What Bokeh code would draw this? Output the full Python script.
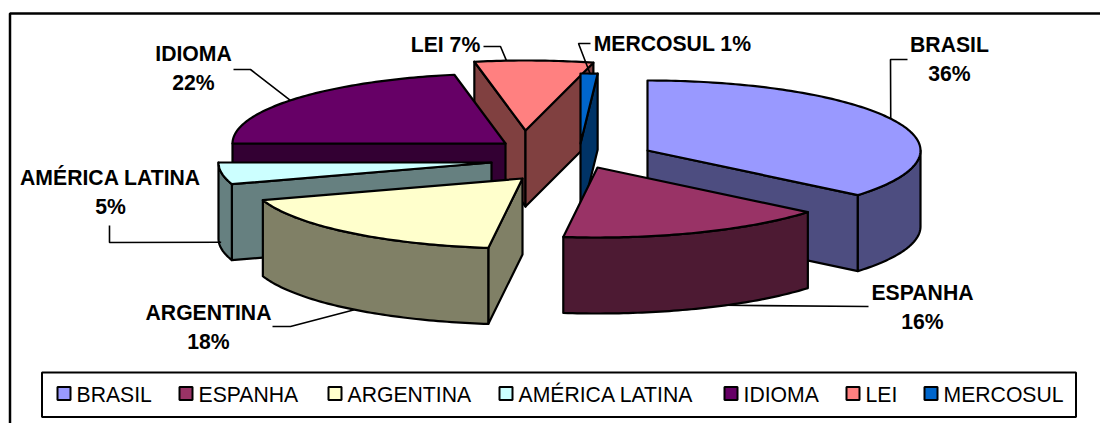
import math

from bokeh.core.properties import value
from bokeh.embed import file_html
from bokeh.plotting import figure
from bokeh.resources import INLINE

# Chart data
categories = ["BRASIL", "ESPANHA", "ARGENTINA", "AMÉRICA LATINA", "IDIOMA", "LEI", "MERCOSUL"]
percentages = [36, 16, 18, 5, 22, 7, 1]
top_colors = ["#9999FF", "#993366", "#FFFFCC", "#CCFFFF", "#660066", "#FF8080", "#0066CC"]
side_colors = ["#4D4D80", "#4D1A33", "#808066", "#668080", "#330033", "#804040", "#003366"]

# Projection of the tilted pie and where each exploded slice has its tip
RADIUS_X, RADIUS_Y, DEPTH = 273, 70, 76
tip_x = [647, 597, 522, 491, 505, 525, 580]
tip_y = [150, 167, 178, 162, 143, 130, 143]
draw_order = [5, 6, 4, 3, 0, 1, 2]


def rim(i, angle):
    """Screen position of a slice's rim at a clockwise angle from 12 o'clock."""
    t = math.radians(angle)
    return tip_x[i] + RADIUS_X * math.sin(t), tip_y[i] - RADIUS_Y * math.cos(t)


# A percentage is that share of the circle. The labels add up to 105, so the
# running angle goes back to the top once it has passed a full turn.
spans = []
running = 0.0
for pct in percentages:
    if running >= 360:
        running = 0.0
    spans.append((running, running + pct * 3.6))
    running += pct * 3.6

p = figure(
    width=1100, height=423, x_range=(0, 1100), y_range=(423, 0),
    x_axis_location=None, y_axis_location=None, min_border=0,
    toolbar_location=None, output_backend="svg", background_fill_color="white",
    border_fill_color="white", outline_line_color=None,
)
p.grid.visible = False

# Chart frame, cut off by the window on the right and at the bottom
p.line([9.5, 9.5, 1100], [423, 13, 13], line_color="black", line_width=2.5)


def polygon(xs, ys, fill):
    p.patch(xs, ys, fill_color=fill, line_color="black", line_width=2.2, line_join="round")


def radial_face(i, angle):
    x, y = rim(i, angle)
    polygon([tip_x[i], x, x, tip_x[i]],
            [tip_y[i], y, y + DEPTH, tip_y[i] + DEPTH], side_colors[i])


for i in draw_order:
    start, end = spans[i]
    side = side_colors[i]

    # Radial faces turned towards the viewer
    if math.sin(math.radians(start)) < -1e-6:
        radial_face(i, start)
    if math.sin(math.radians(end)) > 1e-6:
        radial_face(i, end)

    # Outer wall: only the front half of the rim can be seen
    wall_from, wall_to = max(start, 90), min(end, 270)
    if wall_from < wall_to:
        steps = int(wall_to - wall_from) + 2
        pts = [rim(i, wall_from + (wall_to - wall_from) * k / steps) for k in range(steps + 1)]
        polygon([q[0] for q in pts] + [q[0] for q in reversed(pts)],
                [q[1] for q in pts] + [q[1] + DEPTH for q in reversed(pts)], side)

    # Top surface
    steps = int(end - start) + 2
    pts = [rim(i, start + (end - start) * k / steps) for k in range(steps + 1)]
    polygon([tip_x[i]] + [q[0] for q in pts], [tip_y[i]] + [q[1] for q in pts], top_colors[i])

# Leader lines: (elbow points, slice, rim angle, drop down the wall)
leaders = [
    ([(907, 59), (890, 59)], 0, 63, 0),
    ([(868, 306)], 1, 152, DEPTH),
    ([(272, 326), (290, 326)], 2, 218, DEPTH),
    ([(109, 225), (109, 242)], 3, 262, DEPTH - 6),
    ([(233, 69), (250, 69)], 4, 308, 0),
    ([(483, 46), (500, 46)], 5, 356, 0),
    ([(590, 43), (578, 43)], 6, 2, 0),
]
for elbow, i, angle, drop in leaders:
    x, y = rim(i, angle)
    p.line([q[0] for q in elbow] + [x], [q[1] for q in elbow] + [y + drop],
           line_color="black", line_width=1.6)

# Data labels, one text per line
FONT = value("Liberation Sans")
LABEL_SIZE = "21.2px"
label_x = [949, 922, 208, 110, 193]
label_y = [43.5, 291.5, 311.5, 176.5, 52.5]
for i in range(5):
    p.text([label_x[i]], [label_y[i]], text=[categories[i]], text_font=FONT,
           text_font_style="bold", text_font_size=LABEL_SIZE, text_align="center",
           text_baseline="middle", text_color="black")
    p.text([label_x[i]], [label_y[i] + 29], text=[f"{percentages[i]}%"], text_font=FONT,
           text_font_style="bold", text_font_size=LABEL_SIZE, text_align="center",
           text_baseline="middle", text_color="black")
single_x = [445, 672]
single_y = [43.5, 42.5]
for k, i in enumerate([5, 6]):
    p.text([single_x[k]], [single_y[k]], text=[f"{categories[i]} {percentages[i]}%"], text_font=FONT,
           text_font_style="bold", text_font_size=LABEL_SIZE, text_align="center",
           text_baseline="middle", text_color="black")

# Legend
p.quad(left=[41.5], right=[1075.5], top=[372], bottom=[416.5], fill_color="white",
       line_color="black", line_width=2)
swatch_x = [57, 179, 328, 499, 724, 846, 924]
for i, name in enumerate(categories):
    p.quad(left=[swatch_x[i]], right=[swatch_x[i] + 13], top=[386.5], bottom=[399.5],
           fill_color=top_colors[i], line_color="black", line_width=2)
    p.text([swatch_x[i] + 19], [393.5], text=[name], text_font=FONT, text_font_size="21.2px",
           text_align="left", text_baseline="middle", text_color="black")

open("out.html", "w").write(file_html(p, INLINE))
